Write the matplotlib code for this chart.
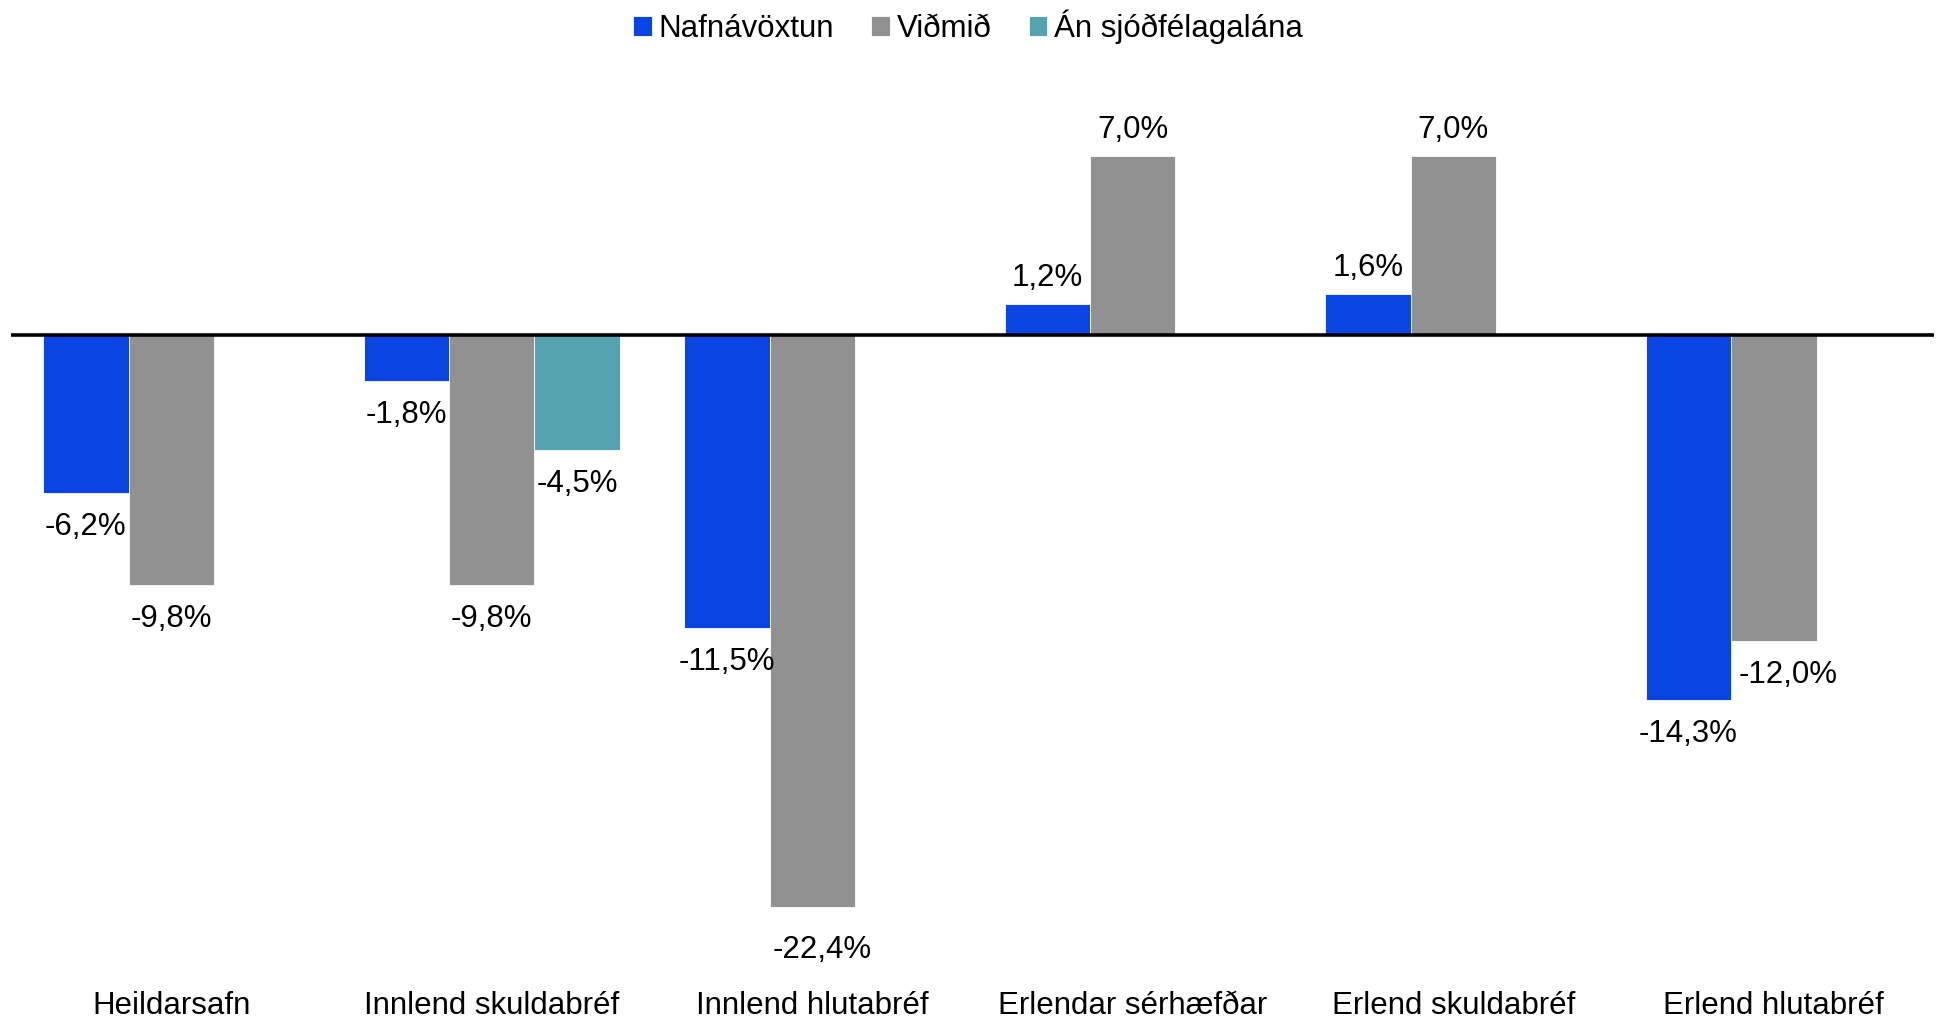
import numpy as np
import matplotlib.pyplot as plt
import matplotlib as mpl
from matplotlib import font_manager as fm

names = {f.name for f in fm.fontManager.ttflist}
FONT = ["Liberation Sans Narrow"] if "Liberation Sans Narrow" in names else ["Liberation Sans"]
mpl.rcParams["font.family"] = FONT + ["DejaVu Sans"]

CATEGORIES = ["Heildarsafn", "Innlend skuldabréf", "Innlend hlutabréf",
              "Erlendar sérhæfðar", "Erlend skuldabréf", "Erlend hlutabréf"]
SERIES = ["Nafnávöxtun", "Viðmið", "Án sjóðfélagalána"]
NAFNAVOXTUN = [-6.2, -1.8, -11.5, 1.2, 1.6, -14.3]
VIDMID = [-9.8, -9.8, -22.4, 7.0, 7.0, -12.0]
AN_SJODFELAGALANA = [np.nan, -4.5, np.nan, np.nan, np.nan, np.nan]

COLORS = ["#0B44E4", "#919191", "#55A3AE"]

fig = plt.figure(figsize=(19.36, 10.24), dpi=100)
ax = fig.add_axes([0.00568, 0.0374, 0.9933, 0.8848])

x = np.arange(len(CATEGORIES))
w = 0.8 / 3
all_vals = [NAFNAVOXTUN, VIDMID, AN_SJODFELAGALANA]
FS = 22.5

# label nudges (x in points, extra y in points) for a couple of labels
nudge = {(1, 2): (7, -7), (1, 5): (10, 0)}

for i, (name, vals, col) in enumerate(zip(SERIES, all_vals, COLORS)):
    vals = np.array(vals, dtype=float)
    pos = x + (i - 1) * w
    bars = ax.bar(pos, np.nan_to_num(vals), width=w, color=col, label=name,
                  edgecolor="white", linewidth=0.6)
    for j, v in enumerate(vals):
        if np.isnan(v):
            continue
        dx, dy = nudge.get((i, j), (0, 0))
        off = 19 if v > 0 else -24.5
        ax.annotate(f"{v:.1f}%".replace(".", ","), (pos[j], v),
                    xytext=(dx, off + dy), textcoords="offset points",
                    ha="center", va="center", fontsize=FS, color="black")

ax.axhline(0, color="black", linewidth=2.6, zorder=5)
ax.set_xlim(-0.5, len(CATEGORIES) - 0.5)
ax.set_ylim(-25.5, 10)
ax.set_xticks(x)
ax.set_xticklabels(CATEGORIES, fontsize=FS)
ax.tick_params(axis="x", length=0, pad=4)
ax.set_yticks([])
for s in ax.spines.values():
    s.set_visible(False)

fig.legend(loc="upper center", bbox_to_anchor=(0.5, 1.018), ncol=3, frameon=False,
           fontsize=FS, handlelength=0.6, handleheight=0.6, handletextpad=0.2,
           columnspacing=1.2)

fig.savefig("out.png", dpi=100, facecolor="white")
